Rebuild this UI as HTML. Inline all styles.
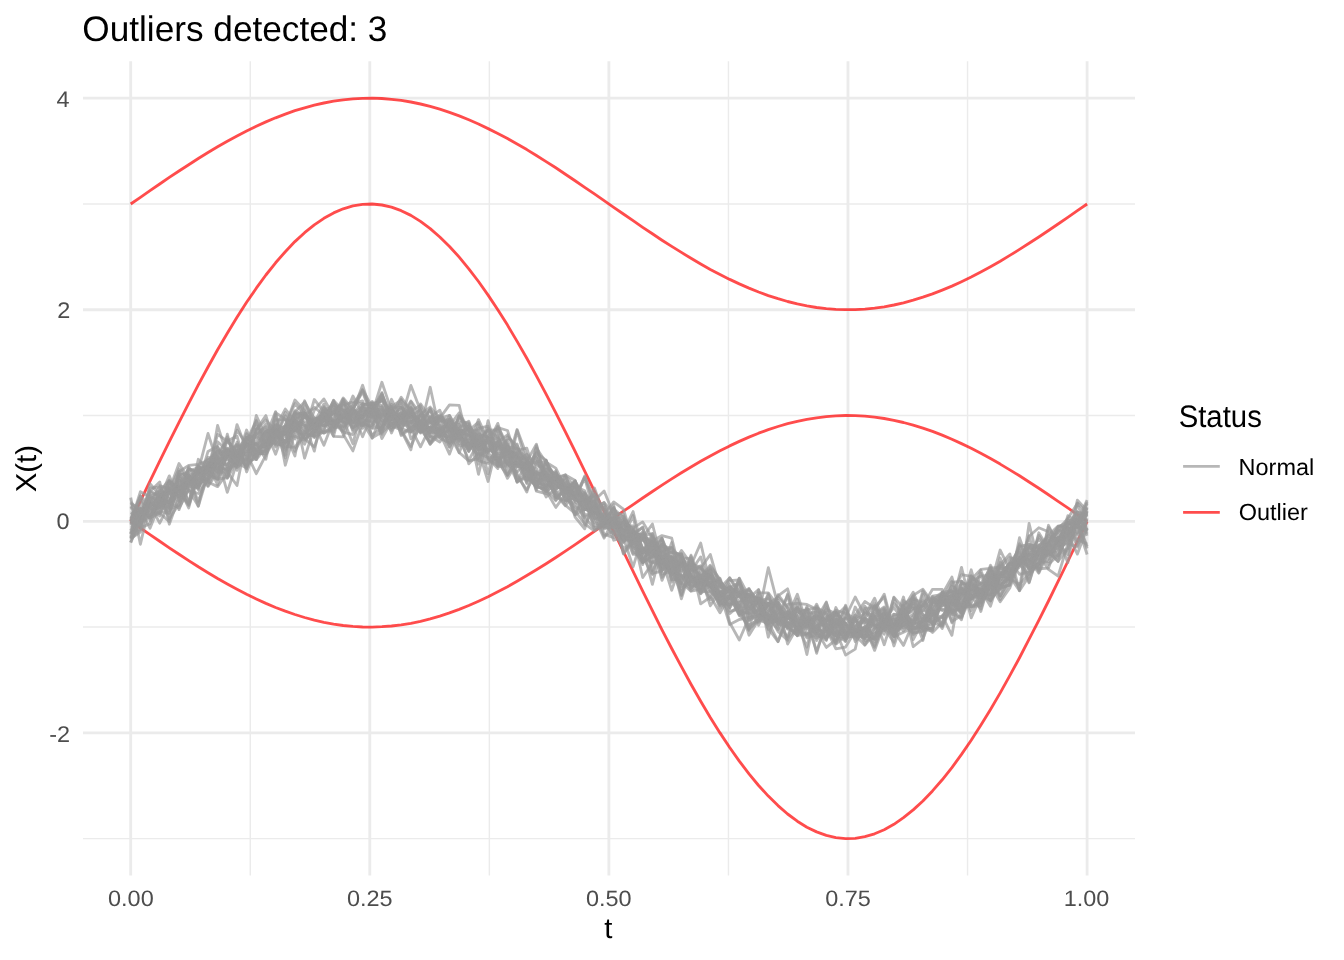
<!DOCTYPE html>
<html><head><meta charset="utf-8"><title>Outliers detected: 3</title>
<style>html,body{margin:0;padding:0;background:#fff;width:1344px;height:960px;overflow:hidden}svg{display:block;will-change:transform}</style>
</head><body>
<svg width="1344" height="960" viewBox="0 0 1344 960">
<rect width="1344" height="960" fill="#fff"/>
<path d="M83 838.62H1135M83 627.07H1135M83 415.52H1135M83 203.97H1135M250.25 61.2V875.6M489.35 61.2V875.6M728.45 61.2V875.6M967.55 61.2V875.6" stroke="#EBEBEB" stroke-width="1.42" fill="none"/>
<path d="M83 732.85H1135M83 521.3H1135M83 309.75H1135M83 98.2H1135M130.7 61.2V875.6M369.8 61.2V875.6M608.9 61.2V875.6M848 61.2V875.6M1087.1 61.2V875.6" stroke="#EBEBEB" stroke-width="2.845" fill="none"/>
<g fill="none" stroke-linejoin="round" stroke-width="2.845">
<path d="M130.7 204.0 140.4 197.3 150.0 190.6 159.7 184.0 169.3 177.4 179.0 171.0 188.7 164.7 198.3 158.5 208.0 152.5 217.6 146.8 227.3 141.3 237.0 136.0 246.6 131.0 256.3 126.3 265.9 121.9 275.6 117.8 285.3 114.1 294.9 110.7 304.6 107.8 314.3 105.2 323.9 103.0 333.6 101.2 343.2 99.8 352.9 98.9 362.6 98.3 372.2 98.2 381.9 98.5 391.5 99.3 401.2 100.4 410.9 102.0 420.5 104.0 430.2 106.4 439.8 109.2 449.5 112.4 459.2 115.9 468.8 119.8 478.5 124.0 488.1 128.6 497.8 133.4 507.5 138.6 517.1 144.0 526.8 149.6 536.4 155.5 546.1 161.6 555.8 167.8 565.4 174.2 575.1 180.7 584.7 187.3 594.4 193.9 604.1 200.6 613.7 207.3 623.4 214.0 633.1 220.7 642.7 227.3 652.4 233.8 662.0 240.2 671.7 246.4 681.4 252.4 691.0 258.3 700.7 264.0 710.3 269.4 720.0 274.5 729.7 279.4 739.3 283.9 749.0 288.1 758.6 292.0 768.3 295.6 778.0 298.7 787.6 301.5 797.3 303.9 806.9 305.9 816.6 307.5 826.3 308.7 835.9 309.4 845.6 309.7 855.2 309.6 864.9 309.1 874.6 308.1 884.2 306.8 893.9 305.0 903.5 302.8 913.2 300.2 922.9 297.2 932.5 293.9 942.2 290.1 951.9 286.1 961.5 281.7 971.2 277.0 980.8 272.0 990.5 266.7 1000.2 261.2 1009.8 255.4 1019.5 249.4 1029.1 243.3 1038.8 237.0 1048.5 230.5 1058.1 224.0 1067.8 217.4 1077.4 210.7 1087.1 204.0" stroke="rgba(255,0,0,0.7)"/>
<path d="M130.7 521.3 140.4 501.2 150.0 481.1 159.7 461.2 169.3 441.6 179.0 422.3 188.7 403.4 198.3 384.9 208.0 367.0 217.6 349.7 227.3 333.2 237.0 317.3 246.6 302.3 256.3 288.2 265.9 275.0 275.6 262.8 285.3 251.7 294.9 241.6 304.6 232.7 314.3 224.9 323.9 218.3 333.6 212.9 343.2 208.8 352.9 205.9 362.6 204.3 372.2 204.0 381.9 205.0 391.5 207.2 401.2 210.7 410.9 215.4 420.5 221.4 430.2 228.6 439.8 237.0 449.5 246.5 459.2 257.1 468.8 268.8 478.5 281.5 488.1 295.1 497.8 309.7 507.5 325.1 517.1 341.4 526.8 358.3 536.4 375.9 546.1 394.1 555.8 412.8 565.4 431.9 575.1 451.4 584.7 471.2 594.4 491.1 604.1 511.2 613.7 531.4 623.4 551.5 633.1 571.4 642.7 591.2 652.4 610.7 662.0 629.8 671.7 648.5 681.4 666.7 691.0 684.3 700.7 701.2 710.3 717.5 720.0 732.9 729.7 747.5 739.3 761.1 749.0 773.8 758.6 785.5 768.3 796.1 778.0 805.6 787.6 814.0 797.3 821.2 806.9 827.2 816.6 831.9 826.3 835.4 835.9 837.6 845.6 838.6 855.2 838.3 864.9 836.7 874.6 833.8 884.2 829.7 893.9 824.3 903.5 817.7 913.2 809.9 922.9 801.0 932.5 790.9 942.2 779.8 951.9 767.6 961.5 754.4 971.2 740.3 980.8 725.3 990.5 709.4 1000.2 692.9 1009.8 675.6 1019.5 657.7 1029.1 639.2 1038.8 620.3 1048.5 601.0 1058.1 581.4 1067.8 561.5 1077.4 541.4 1087.1 521.3" stroke="rgba(255,0,0,0.7)"/>
<path d="M130.7 521.3 140.4 528.0 150.0 534.7 159.7 541.3 169.3 547.9 179.0 554.3 188.7 560.6 198.3 566.8 208.0 572.7 217.6 578.5 227.3 584.0 237.0 589.3 246.6 594.3 256.3 599.0 265.9 603.4 275.6 607.5 285.3 611.2 294.9 614.5 304.6 617.5 314.3 620.1 323.9 622.3 333.6 624.1 343.2 625.5 352.9 626.4 362.6 627.0 372.2 627.1 381.9 626.7 391.5 626.0 401.2 624.8 410.9 623.3 420.5 621.3 430.2 618.9 439.8 616.1 449.5 612.9 459.2 609.4 468.8 605.5 478.5 601.2 488.1 596.7 497.8 591.8 507.5 586.7 517.1 581.3 526.8 575.6 536.4 569.8 546.1 563.7 555.8 557.5 565.4 551.1 575.1 544.6 584.7 538.0 594.4 531.4 604.1 524.7 613.7 517.9 623.4 511.2 633.1 504.6 642.7 498.0 652.4 491.5 662.0 485.1 671.7 478.9 681.4 472.8 691.0 467.0 700.7 461.3 710.3 455.9 720.0 450.8 729.7 445.9 739.3 441.4 749.0 437.1 758.6 433.2 768.3 429.7 778.0 426.5 787.6 423.7 797.3 421.3 806.9 419.3 816.6 417.8 826.3 416.6 835.9 415.9 845.6 415.5 855.2 415.6 864.9 416.2 874.6 417.1 884.2 418.5 893.9 420.3 903.5 422.5 913.2 425.1 922.9 428.1 932.5 431.4 942.2 435.1 951.9 439.2 961.5 443.6 971.2 448.3 980.8 453.3 990.5 458.6 1000.2 464.1 1009.8 469.9 1019.5 475.8 1029.1 482.0 1038.8 488.3 1048.5 494.7 1058.1 501.3 1067.8 507.9 1077.4 514.6 1087.1 521.3" stroke="rgba(255,0,0,0.7)"/>
<path d="M130.7 497.6 140.4 544.3 150.0 503.0 159.7 507.9 169.3 500.0 179.0 490.8 188.7 505.5 198.3 478.5 208.0 479.9 217.6 425.4 227.3 456.0 237.0 457.4 246.6 451.6 256.3 451.4 265.9 451.5 275.6 439.7 285.3 425.8 294.9 430.8 304.6 413.9 314.3 424.8 323.9 420.0 333.6 400.5 343.2 410.8 352.9 422.1 362.6 417.8 372.2 409.2 381.9 393.3 391.5 419.7 401.2 420.6 410.9 407.7 420.5 431.7 430.2 427.1 439.8 416.3 449.5 422.9 459.2 432.2 468.8 429.3 478.5 474.3 488.1 434.0 497.8 461.9 507.5 475.3 517.1 458.1 526.8 458.8 536.4 478.0 546.1 491.4 555.8 484.8 565.4 492.1 575.1 481.6 584.7 495.9 594.4 509.0 604.1 505.0 613.7 527.0 623.4 542.1 633.1 531.2 642.7 537.8 652.4 553.6 662.0 566.6 671.7 561.0 681.4 598.8 691.0 567.6 700.7 575.6 710.3 605.8 720.0 591.1 729.7 607.9 739.3 592.4 749.0 629.1 758.6 620.0 768.3 604.6 778.0 602.6 787.6 644.0 797.3 627.1 806.9 619.4 816.6 631.9 826.3 607.5 835.9 640.6 845.6 622.9 855.2 639.2 864.9 610.1 874.6 625.7 884.2 628.4 893.9 642.3 903.5 600.5 913.2 608.8 922.9 605.8 932.5 597.9 942.2 603.4 951.9 610.8 961.5 608.3 971.2 603.6 980.8 573.3 990.5 601.0 1000.2 585.4 1009.8 576.5 1019.5 564.1 1029.1 553.9 1038.8 568.8 1048.5 568.0 1058.1 541.4 1067.8 520.6 1077.4 519.2 1087.1 518.8" stroke="rgba(153,153,153,0.7)"/>
<path d="M130.7 525.0 140.4 511.2 150.0 510.7 159.7 491.8 169.3 504.0 179.0 486.7 188.7 483.3 198.3 469.5 208.0 467.3 217.6 434.4 227.3 441.1 237.0 435.9 246.6 472.0 256.3 447.6 265.9 446.3 275.6 428.9 285.3 457.9 294.9 414.4 304.6 412.7 314.3 437.6 323.9 431.7 333.6 427.8 343.2 416.6 352.9 408.7 362.6 391.8 372.2 417.8 381.9 406.9 391.5 414.8 401.2 397.3 410.9 410.7 420.5 405.4 430.2 436.3 439.8 428.8 449.5 439.2 459.2 415.7 468.8 429.5 478.5 444.9 488.1 451.2 497.8 445.1 507.5 464.1 517.1 472.1 526.8 461.4 536.4 444.2 546.1 481.8 555.8 491.6 565.4 505.1 575.1 513.5 584.7 498.5 594.4 501.3 604.1 517.8 613.7 520.8 623.4 530.0 633.1 536.4 642.7 562.4 652.4 556.4 662.0 556.2 671.7 572.8 681.4 575.3 691.0 585.2 700.7 585.2 710.3 576.8 720.0 596.6 729.7 598.5 739.3 591.8 749.0 598.0 758.6 589.6 768.3 637.2 778.0 606.1 787.6 624.5 797.3 619.7 806.9 613.5 816.6 612.2 826.3 613.9 835.9 624.9 845.6 608.3 855.2 630.2 864.9 628.1 874.6 616.2 884.2 630.5 893.9 597.2 903.5 608.3 913.2 592.2 922.9 614.8 932.5 615.6 942.2 605.5 951.9 594.8 961.5 605.8 971.2 589.9 980.8 589.5 990.5 565.2 1000.2 586.2 1009.8 560.6 1019.5 574.3 1029.1 571.8 1038.8 562.6 1048.5 561.7 1058.1 539.6 1067.8 522.7 1077.4 526.1 1087.1 514.0" stroke="rgba(153,153,153,0.7)"/>
<path d="M130.7 502.3 140.4 511.4 150.0 505.6 159.7 504.5 169.3 513.4 179.0 479.5 188.7 502.4 198.3 468.2 208.0 470.0 217.6 451.0 227.3 459.4 237.0 462.9 246.6 444.1 256.3 450.1 265.9 441.3 275.6 434.7 285.3 433.0 294.9 430.3 304.6 434.8 314.3 424.7 323.9 445.2 333.6 420.3 343.2 431.1 352.9 403.1 362.6 400.9 372.2 438.2 381.9 414.2 391.5 418.1 401.2 429.9 410.9 413.2 420.5 426.7 430.2 444.3 439.8 429.6 449.5 431.4 459.2 432.0 468.8 451.5 478.5 434.2 488.1 437.4 497.8 464.1 507.5 463.6 517.1 462.3 526.8 473.6 536.4 452.5 546.1 476.5 555.8 496.9 565.4 500.7 575.1 498.7 584.7 477.9 594.4 513.3 604.1 516.5 613.7 518.7 623.4 531.8 633.1 511.5 642.7 550.8 652.4 542.4 662.0 555.6 671.7 556.5 681.4 583.5 691.0 555.1 700.7 582.7 710.3 586.3 720.0 602.7 729.7 605.2 739.3 594.7 749.0 594.0 758.6 600.6 768.3 598.8 778.0 607.8 787.6 618.5 797.3 611.5 806.9 616.3 816.6 626.0 826.3 617.6 835.9 611.8 845.6 624.3 855.2 631.1 864.9 618.1 874.6 603.4 884.2 626.5 893.9 623.4 903.5 621.7 913.2 603.3 922.9 635.9 932.5 606.9 942.2 593.6 951.9 612.9 961.5 581.7 971.2 588.1 980.8 595.7 990.5 581.6 1000.2 596.3 1009.8 579.3 1019.5 545.5 1029.1 571.0 1038.8 532.8 1048.5 548.8 1058.1 529.7 1067.8 534.2 1077.4 554.1 1087.1 528.0" stroke="rgba(153,153,153,0.7)"/>
<path d="M130.7 519.1 140.4 528.0 150.0 523.6 159.7 497.0 169.3 502.3 179.0 508.0 188.7 489.9 198.3 465.8 208.0 475.4 217.6 453.2 227.3 440.8 237.0 452.9 246.6 461.5 256.3 458.7 265.9 439.5 275.6 424.9 285.3 428.3 294.9 421.7 304.6 430.2 314.3 419.0 323.9 425.8 333.6 422.3 343.2 432.2 352.9 434.5 362.6 421.3 372.2 428.4 381.9 427.0 391.5 408.8 401.2 419.0 410.9 385.4 420.5 410.6 430.2 431.1 439.8 417.5 449.5 425.5 459.2 441.2 468.8 424.3 478.5 450.4 488.1 481.5 497.8 441.5 507.5 463.1 517.1 444.0 526.8 474.5 536.4 486.6 546.1 460.9 555.8 497.6 565.4 489.1 575.1 481.1 584.7 503.3 594.4 512.2 604.1 516.8 613.7 514.9 623.4 540.7 633.1 530.9 642.7 537.9 652.4 524.0 662.0 561.4 671.7 574.4 681.4 561.2 691.0 580.3 700.7 577.9 710.3 585.1 720.0 578.2 729.7 604.3 739.3 602.3 749.0 635.2 758.6 619.7 768.3 595.0 778.0 624.0 787.6 627.0 797.3 635.4 806.9 616.5 816.6 622.8 826.3 639.8 835.9 619.0 845.6 624.0 855.2 618.2 864.9 633.9 874.6 605.2 884.2 619.3 893.9 623.7 903.5 626.1 913.2 620.4 922.9 604.5 932.5 614.3 942.2 594.9 951.9 596.6 961.5 583.3 971.2 584.8 980.8 590.0 990.5 606.2 1000.2 575.0 1009.8 563.5 1019.5 564.9 1029.1 554.1 1038.8 559.8 1048.5 552.3 1058.1 552.3 1067.8 518.8 1077.4 526.2 1087.1 527.0" stroke="rgba(153,153,153,0.7)"/>
<path d="M130.7 536.8 140.4 516.4 150.0 491.1 159.7 495.9 169.3 503.2 179.0 471.7 188.7 465.4 198.3 464.4 208.0 460.7 217.6 450.7 227.3 452.3 237.0 444.3 246.6 457.4 256.3 426.2 265.9 436.5 275.6 411.6 285.3 455.2 294.9 419.9 304.6 413.7 314.3 426.5 323.9 415.0 333.6 409.8 343.2 410.4 352.9 422.5 362.6 417.3 372.2 403.7 381.9 401.0 391.5 415.5 401.2 416.9 410.9 417.0 420.5 409.3 430.2 436.0 439.8 442.0 449.5 428.2 459.2 446.1 468.8 444.0 478.5 440.4 488.1 440.3 497.8 463.2 507.5 446.6 517.1 482.0 526.8 460.6 536.4 491.2 546.1 493.7 555.8 477.7 565.4 496.2 575.1 507.3 584.7 509.8 594.4 505.8 604.1 518.6 613.7 525.0 623.4 519.1 633.1 546.3 642.7 550.1 652.4 557.2 662.0 543.9 671.7 552.2 681.4 554.8 691.0 576.0 700.7 583.1 710.3 576.8 720.0 596.4 729.7 587.0 739.3 592.8 749.0 613.6 758.6 610.3 768.3 614.3 778.0 595.9 787.6 588.8 797.3 622.4 806.9 623.1 816.6 651.4 826.3 623.5 835.9 626.8 845.6 639.5 855.2 617.8 864.9 644.6 874.6 628.0 884.2 622.5 893.9 636.8 903.5 610.1 913.2 605.2 922.9 630.7 932.5 627.6 942.2 600.5 951.9 603.8 961.5 613.1 971.2 597.7 980.8 590.5 990.5 585.7 1000.2 568.9 1009.8 568.3 1019.5 546.2 1029.1 544.6 1038.8 546.4 1048.5 535.3 1058.1 525.9 1067.8 526.5 1077.4 542.3 1087.1 511.3" stroke="rgba(153,153,153,0.7)"/>
<path d="M130.7 520.5 140.4 495.8 150.0 506.8 159.7 495.2 169.3 490.9 179.0 468.7 188.7 479.9 198.3 479.0 208.0 466.3 217.6 469.2 227.3 456.7 237.0 453.4 246.6 445.1 256.3 421.2 265.9 443.9 275.6 434.7 285.3 433.7 294.9 420.2 304.6 438.8 314.3 430.6 323.9 420.8 333.6 412.2 343.2 417.7 352.9 422.0 362.6 425.7 372.2 409.6 381.9 399.1 391.5 412.8 401.2 415.6 410.9 414.2 420.5 432.3 430.2 427.4 439.8 429.6 449.5 426.3 459.2 433.6 468.8 451.3 478.5 428.3 488.1 426.2 497.8 453.8 507.5 451.3 517.1 458.2 526.8 457.8 536.4 490.0 546.1 460.1 555.8 490.6 565.4 476.8 575.1 497.1 584.7 509.1 594.4 512.9 604.1 507.5 613.7 534.7 623.4 535.7 633.1 543.6 642.7 564.6 652.4 536.0 662.0 550.7 671.7 564.0 681.4 556.2 691.0 586.8 700.7 582.1 710.3 566.6 720.0 580.4 729.7 622.6 739.3 640.0 749.0 617.5 758.6 597.0 768.3 618.4 778.0 618.6 787.6 611.8 797.3 631.6 806.9 620.8 816.6 615.6 826.3 620.6 835.9 622.1 845.6 634.1 855.2 621.0 864.9 631.4 874.6 610.3 884.2 594.2 893.9 630.9 903.5 645.4 913.2 622.5 922.9 610.2 932.5 599.0 942.2 594.9 951.9 612.5 961.5 608.2 971.2 579.5 980.8 602.0 990.5 571.3 1000.2 581.1 1009.8 563.8 1019.5 558.5 1029.1 551.6 1038.8 544.8 1048.5 559.4 1058.1 537.9 1067.8 534.5 1077.4 524.4 1087.1 507.0" stroke="rgba(153,153,153,0.7)"/>
<path d="M130.7 524.5 140.4 522.9 150.0 516.4 159.7 504.9 169.3 486.0 179.0 497.8 188.7 468.5 198.3 472.5 208.0 472.5 217.6 479.6 227.3 455.7 237.0 445.3 246.6 468.9 256.3 429.7 265.9 420.0 275.6 431.2 285.3 425.7 294.9 400.0 304.6 410.8 314.3 432.9 323.9 420.5 333.6 420.3 343.2 418.9 352.9 443.7 362.6 406.8 372.2 422.9 381.9 414.0 391.5 418.2 401.2 407.6 410.9 422.8 420.5 430.6 430.2 417.5 439.8 410.2 449.5 433.4 459.2 417.3 468.8 434.1 478.5 447.6 488.1 428.2 497.8 460.3 507.5 444.1 517.1 467.1 526.8 461.7 536.4 487.2 546.1 488.6 555.8 472.7 565.4 489.3 575.1 497.6 584.7 509.7 594.4 506.1 604.1 534.2 613.7 537.7 623.4 533.2 633.1 547.7 642.7 552.8 652.4 551.9 662.0 559.1 671.7 566.3 681.4 550.4 691.0 563.9 700.7 567.0 710.3 587.0 720.0 597.7 729.7 613.6 739.3 605.3 749.0 629.7 758.6 616.2 768.3 604.0 778.0 597.2 787.6 607.6 797.3 631.3 806.9 617.5 816.6 634.0 826.3 616.4 835.9 628.0 845.6 617.1 855.2 597.0 864.9 615.7 874.6 598.3 884.2 622.0 893.9 626.1 903.5 604.6 913.2 597.5 922.9 621.0 932.5 610.3 942.2 624.2 951.9 605.7 961.5 588.7 971.2 595.3 980.8 595.9 990.5 600.4 1000.2 574.2 1009.8 563.4 1019.5 559.8 1029.1 557.6 1038.8 569.1 1048.5 527.4 1058.1 542.0 1067.8 536.4 1077.4 519.5 1087.1 546.5" stroke="rgba(153,153,153,0.7)"/>
<path d="M130.7 522.1 140.4 516.2 150.0 503.6 159.7 485.6 169.3 489.2 179.0 509.6 188.7 485.9 198.3 473.4 208.0 468.2 217.6 479.0 227.3 477.9 237.0 446.9 246.6 444.3 256.3 443.8 265.9 459.3 275.6 414.5 285.3 465.2 294.9 432.3 304.6 400.8 314.3 424.3 323.9 417.6 333.6 432.2 343.2 401.3 352.9 431.2 362.6 412.7 372.2 414.0 381.9 428.1 391.5 406.3 401.2 434.2 410.9 427.3 420.5 421.7 430.2 428.5 439.8 421.1 449.5 418.9 459.2 436.7 468.8 443.4 478.5 447.4 488.1 450.2 497.8 441.4 507.5 458.4 517.1 456.6 526.8 468.0 536.4 482.7 546.1 468.8 555.8 497.2 565.4 491.4 575.1 480.7 584.7 517.3 594.4 511.9 604.1 536.4 613.7 530.6 623.4 548.7 633.1 542.2 642.7 550.9 652.4 549.6 662.0 539.0 671.7 560.4 681.4 562.1 691.0 576.2 700.7 584.1 710.3 596.4 720.0 612.8 729.7 595.9 739.3 582.3 749.0 599.9 758.6 615.6 768.3 593.7 778.0 621.1 787.6 626.1 797.3 635.4 806.9 634.4 816.6 627.7 826.3 602.7 835.9 629.1 845.6 639.1 855.2 634.0 864.9 629.0 874.6 645.4 884.2 622.6 893.9 614.2 903.5 616.4 913.2 610.5 922.9 629.5 932.5 630.9 942.2 592.5 951.9 590.7 961.5 616.9 971.2 591.9 980.8 589.0 990.5 577.7 1000.2 576.1 1009.8 578.6 1019.5 564.5 1029.1 558.8 1038.8 554.9 1048.5 569.4 1058.1 576.2 1067.8 543.9 1077.4 547.0 1087.1 518.4" stroke="rgba(153,153,153,0.7)"/>
<path d="M130.7 513.0 140.4 511.5 150.0 512.2 159.7 500.5 169.3 481.2 179.0 496.8 188.7 471.3 198.3 467.6 208.0 466.8 217.6 447.2 227.3 466.9 237.0 442.3 246.6 459.1 256.3 452.5 265.9 451.5 275.6 430.0 285.3 442.4 294.9 427.5 304.6 438.3 314.3 410.1 323.9 398.9 333.6 415.9 343.2 398.0 352.9 409.7 362.6 390.4 372.2 414.4 381.9 434.1 391.5 399.3 401.2 419.2 410.9 431.4 420.5 429.0 430.2 442.7 439.8 428.5 449.5 442.2 459.2 416.0 468.8 429.4 478.5 460.7 488.1 463.5 497.8 457.4 507.5 478.3 517.1 462.6 526.8 467.5 536.4 481.8 546.1 485.3 555.8 479.3 565.4 475.0 575.1 480.6 584.7 504.2 594.4 501.3 604.1 526.5 613.7 519.9 623.4 542.5 633.1 529.5 642.7 559.0 652.4 562.3 662.0 557.6 671.7 557.2 681.4 586.5 691.0 581.9 700.7 579.7 710.3 584.0 720.0 601.6 729.7 595.6 739.3 604.3 749.0 589.1 758.6 602.9 768.3 628.3 778.0 641.7 787.6 617.7 797.3 607.5 806.9 621.2 816.6 614.6 826.3 631.6 835.9 642.6 845.6 618.4 855.2 625.8 864.9 618.5 874.6 641.5 884.2 622.0 893.9 629.6 903.5 610.7 913.2 624.3 922.9 621.6 932.5 618.0 942.2 592.8 951.9 603.1 961.5 607.8 971.2 606.2 980.8 601.4 990.5 567.0 1000.2 599.6 1009.8 582.6 1019.5 559.3 1029.1 546.9 1038.8 556.0 1048.5 538.7 1058.1 532.5 1067.8 523.2 1077.4 527.5 1087.1 502.0" stroke="rgba(153,153,153,0.7)"/>
<path d="M130.7 518.8 140.4 496.6 150.0 520.5 159.7 490.1 169.3 509.1 179.0 505.5 188.7 475.9 198.3 485.1 208.0 464.3 217.6 476.2 227.3 439.5 237.0 452.8 246.6 461.0 256.3 441.1 265.9 428.5 275.6 443.6 285.3 424.9 294.9 403.7 304.6 414.4 314.3 422.0 323.9 426.3 333.6 411.2 343.2 434.2 352.9 450.9 362.6 422.8 372.2 427.5 381.9 394.9 391.5 414.3 401.2 428.6 410.9 432.2 420.5 414.8 430.2 432.7 439.8 432.6 449.5 430.0 459.2 431.5 468.8 435.3 478.5 439.3 488.1 430.0 497.8 430.2 507.5 474.4 517.1 430.5 526.8 464.6 536.4 457.5 546.1 486.7 555.8 480.5 565.4 488.2 575.1 495.8 584.7 493.8 594.4 503.0 604.1 528.8 613.7 525.2 623.4 522.0 633.1 529.1 642.7 547.6 652.4 553.5 662.0 558.4 671.7 575.7 681.4 583.9 691.0 556.5 700.7 585.0 710.3 584.7 720.0 599.7 729.7 580.7 739.3 580.0 749.0 607.2 758.6 602.5 768.3 620.8 778.0 594.7 787.6 607.2 797.3 630.2 806.9 607.9 816.6 619.8 826.3 620.3 835.9 621.7 845.6 634.0 855.2 632.4 864.9 618.3 874.6 625.2 884.2 634.3 893.9 597.8 903.5 621.7 913.2 623.2 922.9 621.8 932.5 602.3 942.2 595.3 951.9 599.7 961.5 588.1 971.2 610.9 980.8 592.8 990.5 588.7 1000.2 577.6 1009.8 566.3 1019.5 589.7 1029.1 523.5 1038.8 563.6 1048.5 543.1 1058.1 531.0 1067.8 524.1 1077.4 524.5 1087.1 554.5" stroke="rgba(153,153,153,0.7)"/>
<path d="M130.7 533.3 140.4 505.1 150.0 518.0 159.7 513.0 169.3 521.6 179.0 473.6 188.7 475.5 198.3 485.7 208.0 470.9 217.6 464.8 227.3 471.1 237.0 456.1 246.6 445.0 256.3 436.8 265.9 424.1 275.6 434.5 285.3 436.5 294.9 423.1 304.6 432.1 314.3 436.8 323.9 406.7 333.6 422.7 343.2 415.5 352.9 408.4 362.6 428.3 372.2 407.8 381.9 410.4 391.5 417.5 401.2 413.0 410.9 427.9 420.5 446.8 430.2 426.8 439.8 436.9 449.5 419.4 459.2 429.9 468.8 443.1 478.5 440.6 488.1 430.0 497.8 437.4 507.5 451.4 517.1 456.1 526.8 470.0 536.4 474.1 546.1 471.8 555.8 486.3 565.4 487.8 575.1 510.8 584.7 523.8 594.4 530.8 604.1 522.8 613.7 509.0 623.4 517.4 633.1 549.4 642.7 562.5 652.4 541.7 662.0 551.9 671.7 579.5 681.4 557.3 691.0 573.4 700.7 565.7 710.3 582.5 720.0 581.3 729.7 592.8 739.3 612.1 749.0 608.0 758.6 617.1 768.3 603.1 778.0 627.5 787.6 636.5 797.3 613.1 806.9 609.7 816.6 607.8 826.3 613.1 835.9 644.1 845.6 635.0 855.2 633.2 864.9 626.5 874.6 650.4 884.2 624.1 893.9 618.9 903.5 631.0 913.2 616.0 922.9 600.5 932.5 610.5 942.2 595.0 951.9 591.5 961.5 594.1 971.2 589.7 980.8 593.5 990.5 569.4 1000.2 583.8 1009.8 580.7 1019.5 558.4 1029.1 568.9 1038.8 549.2 1048.5 535.4 1058.1 540.2 1067.8 533.3 1077.4 517.2 1087.1 512.4" stroke="rgba(153,153,153,0.7)"/>
<path d="M130.7 539.1 140.4 529.7 150.0 492.3 159.7 496.6 169.3 518.8 179.0 503.8 188.7 481.5 198.3 487.1 208.0 464.2 217.6 463.0 227.3 452.7 237.0 466.7 246.6 440.9 256.3 420.6 265.9 448.2 275.6 419.6 285.3 419.8 294.9 420.3 304.6 425.6 314.3 435.8 323.9 430.3 333.6 409.4 343.2 405.5 352.9 401.7 362.6 404.2 372.2 404.8 381.9 420.6 391.5 430.4 401.2 415.1 410.9 413.3 420.5 420.1 430.2 441.1 439.8 432.3 449.5 446.6 459.2 431.3 468.8 449.1 478.5 443.0 488.1 441.9 497.8 448.9 507.5 439.7 517.1 473.9 526.8 492.1 536.4 461.5 546.1 462.3 555.8 468.1 565.4 487.9 575.1 491.4 584.7 502.8 594.4 526.0 604.1 524.3 613.7 518.5 623.4 537.7 633.1 515.5 642.7 562.2 652.4 555.8 662.0 544.2 671.7 570.4 681.4 582.6 691.0 591.1 700.7 589.4 710.3 568.8 720.0 586.7 729.7 590.3 739.3 606.9 749.0 595.3 758.6 607.7 768.3 623.2 778.0 621.0 787.6 616.1 797.3 607.3 806.9 623.5 816.6 618.6 826.3 602.1 835.9 635.6 845.6 641.1 855.2 615.1 864.9 620.9 874.6 626.2 884.2 620.6 893.9 625.7 903.5 613.7 913.2 621.0 922.9 604.8 932.5 624.4 942.2 616.6 951.9 601.6 961.5 604.1 971.2 585.8 980.8 589.4 990.5 589.9 1000.2 575.6 1009.8 578.4 1019.5 584.5 1029.1 573.4 1038.8 563.2 1048.5 552.9 1058.1 539.7 1067.8 523.6 1077.4 521.1 1087.1 500.1" stroke="rgba(153,153,153,0.7)"/>
<path d="M130.7 506.0 140.4 516.3 150.0 488.2 159.7 487.0 169.3 499.5 179.0 484.2 188.7 468.7 198.3 472.5 208.0 457.5 217.6 459.0 227.3 449.9 237.0 456.5 246.6 443.4 256.3 447.3 265.9 430.8 275.6 454.2 285.3 427.0 294.9 413.0 304.6 417.8 314.3 422.2 323.9 413.5 333.6 427.8 343.2 426.3 352.9 419.8 362.6 416.8 372.2 403.7 381.9 425.7 391.5 404.4 401.2 435.5 410.9 428.0 420.5 421.2 430.2 409.7 439.8 433.1 449.5 454.1 459.2 427.8 468.8 436.9 478.5 453.4 488.1 457.5 497.8 458.3 507.5 454.2 517.1 453.1 526.8 483.6 536.4 445.7 546.1 478.8 555.8 488.9 565.4 483.1 575.1 496.2 584.7 476.9 594.4 498.0 604.1 521.7 613.7 528.7 623.4 536.6 633.1 541.5 642.7 536.3 652.4 558.1 662.0 538.2 671.7 564.1 681.4 571.0 691.0 564.1 700.7 603.8 710.3 597.1 720.0 584.4 729.7 596.1 739.3 600.9 749.0 600.4 758.6 615.9 768.3 614.4 778.0 631.4 787.6 640.2 797.3 606.1 806.9 633.6 816.6 632.7 826.3 609.3 835.9 613.9 845.6 632.7 855.2 632.7 864.9 626.9 874.6 636.1 884.2 617.3 893.9 620.2 903.5 618.1 913.2 608.3 922.9 605.7 932.5 589.3 942.2 589.4 951.9 622.8 961.5 588.1 971.2 606.9 980.8 605.5 990.5 575.3 1000.2 586.2 1009.8 576.0 1019.5 553.9 1029.1 567.9 1038.8 564.3 1048.5 543.6 1058.1 526.6 1067.8 528.1 1077.4 545.6 1087.1 528.4" stroke="rgba(153,153,153,0.7)"/>
<path d="M130.7 522.6 140.4 491.7 150.0 497.1 159.7 490.9 169.3 480.3 179.0 491.4 188.7 476.0 198.3 469.7 208.0 480.8 217.6 463.9 227.3 451.6 237.0 465.4 246.6 438.5 256.3 434.3 265.9 426.7 275.6 443.7 285.3 429.7 294.9 410.7 304.6 415.4 314.3 431.2 323.9 417.2 333.6 401.5 343.2 417.6 352.9 411.3 362.6 385.3 372.2 415.5 381.9 416.7 391.5 427.9 401.2 425.0 410.9 401.7 420.5 422.6 430.2 437.1 439.8 437.0 449.5 429.2 459.2 424.0 468.8 445.4 478.5 432.7 488.1 451.2 497.8 446.3 507.5 449.5 517.1 453.9 526.8 471.7 536.4 474.5 546.1 472.7 555.8 499.9 565.4 489.3 575.1 491.8 584.7 492.3 594.4 511.5 604.1 519.9 613.7 522.9 623.4 539.8 633.1 540.3 642.7 539.8 652.4 547.8 662.0 569.6 671.7 567.5 681.4 594.3 691.0 566.3 700.7 587.5 710.3 583.9 720.0 604.7 729.7 597.7 739.3 596.1 749.0 594.1 758.6 625.3 768.3 603.2 778.0 618.1 787.6 628.0 797.3 615.9 806.9 626.8 816.6 628.5 826.3 634.4 835.9 624.3 845.6 626.8 855.2 629.2 864.9 637.7 874.6 631.6 884.2 619.6 893.9 607.7 903.5 620.6 913.2 601.3 922.9 614.9 932.5 624.1 942.2 600.3 951.9 614.9 961.5 594.6 971.2 582.1 980.8 593.1 990.5 585.3 1000.2 550.0 1009.8 570.2 1019.5 563.9 1029.1 551.8 1038.8 555.7 1048.5 549.1 1058.1 537.1 1067.8 562.7 1077.4 511.8 1087.1 533.9" stroke="rgba(153,153,153,0.7)"/>
<path d="M130.7 534.0 140.4 508.5 150.0 507.8 159.7 516.0 169.3 492.5 179.0 501.8 188.7 490.3 198.3 493.5 208.0 479.7 217.6 459.7 227.3 457.4 237.0 449.9 246.6 437.8 256.3 444.3 265.9 447.1 275.6 438.6 285.3 412.5 294.9 427.9 304.6 421.6 314.3 423.8 323.9 417.7 333.6 413.7 343.2 417.4 352.9 418.2 362.6 424.9 372.2 425.6 381.9 411.3 391.5 408.1 401.2 407.3 410.9 418.9 420.5 431.1 430.2 416.6 439.8 419.6 449.5 447.4 459.2 424.1 468.8 430.6 478.5 422.2 488.1 459.2 497.8 465.8 507.5 447.0 517.1 482.4 526.8 475.6 536.4 485.7 546.1 490.8 555.8 507.4 565.4 494.4 575.1 486.9 584.7 499.6 594.4 506.2 604.1 522.3 613.7 508.0 623.4 525.4 633.1 526.0 642.7 562.7 652.4 547.2 662.0 570.9 671.7 559.8 681.4 567.6 691.0 588.8 700.7 579.3 710.3 573.3 720.0 586.1 729.7 589.9 739.3 611.3 749.0 613.4 758.6 622.3 768.3 611.4 778.0 602.3 787.6 613.8 797.3 621.3 806.9 636.2 816.6 619.7 826.3 628.8 835.9 648.8 845.6 647.1 855.2 630.9 864.9 636.8 874.6 606.3 884.2 623.7 893.9 634.3 903.5 625.7 913.2 599.0 922.9 625.5 932.5 602.2 942.2 602.4 951.9 586.3 961.5 592.8 971.2 598.9 980.8 583.1 990.5 583.2 1000.2 567.2 1009.8 573.4 1019.5 543.8 1029.1 561.7 1038.8 549.1 1048.5 555.4 1058.1 539.8 1067.8 534.3 1077.4 525.9 1087.1 510.7" stroke="rgba(153,153,153,0.7)"/>
<path d="M130.7 527.4 140.4 524.3 150.0 494.9 159.7 504.5 169.3 502.3 179.0 474.8 188.7 472.8 198.3 506.3 208.0 474.1 217.6 454.8 227.3 448.7 237.0 459.1 246.6 430.0 256.3 452.6 265.9 441.7 275.6 433.4 285.3 431.3 294.9 418.5 304.6 413.0 314.3 422.8 323.9 403.9 333.6 426.2 343.2 419.3 352.9 396.0 362.6 414.2 372.2 402.9 381.9 420.5 391.5 419.4 401.2 418.7 410.9 417.0 420.5 424.9 430.2 423.2 439.8 418.4 449.5 415.4 459.2 431.6 468.8 429.3 478.5 430.4 488.1 458.0 497.8 468.6 507.5 436.8 517.1 445.7 526.8 465.9 536.4 468.4 546.1 489.4 555.8 500.7 565.4 487.5 575.1 514.8 584.7 493.6 594.4 518.7 604.1 514.2 613.7 501.9 623.4 509.1 633.1 540.8 642.7 531.9 652.4 562.7 662.0 563.9 671.7 559.1 681.4 553.4 691.0 581.9 700.7 574.7 710.3 585.2 720.0 606.1 729.7 597.9 739.3 583.5 749.0 606.2 758.6 603.2 768.3 603.0 778.0 624.3 787.6 604.3 797.3 603.5 806.9 604.4 816.6 609.3 826.3 631.1 835.9 633.2 845.6 635.9 855.2 637.2 864.9 635.4 874.6 613.7 884.2 606.9 893.9 629.5 903.5 610.4 913.2 631.9 922.9 618.1 932.5 622.5 942.2 626.1 951.9 602.5 961.5 597.9 971.2 598.8 980.8 595.2 990.5 595.3 1000.2 579.8 1009.8 579.5 1019.5 563.8 1029.1 574.4 1038.8 551.5 1048.5 541.8 1058.1 526.7 1067.8 522.4 1077.4 525.7 1087.1 529.1" stroke="rgba(153,153,153,0.7)"/>
<path d="M130.7 542.4 140.4 514.6 150.0 491.4 159.7 481.9 169.3 524.2 179.0 497.0 188.7 486.0 198.3 487.8 208.0 467.6 217.6 463.6 227.3 464.5 237.0 453.6 246.6 466.7 256.3 454.8 265.9 449.5 275.6 424.6 285.3 450.3 294.9 430.5 304.6 416.0 314.3 423.0 323.9 410.8 333.6 426.0 343.2 412.0 352.9 405.6 362.6 389.6 372.2 407.0 381.9 399.2 391.5 416.4 401.2 416.5 410.9 401.0 420.5 414.4 430.2 407.1 439.8 418.1 449.5 404.9 459.2 405.4 468.8 446.7 478.5 419.6 488.1 440.7 497.8 445.0 507.5 457.0 517.1 452.7 526.8 479.7 536.4 481.0 546.1 487.5 555.8 481.5 565.4 480.5 575.1 489.1 584.7 500.0 594.4 517.8 604.1 538.1 613.7 519.6 623.4 529.3 633.1 533.5 642.7 527.7 652.4 552.9 662.0 559.5 671.7 590.3 681.4 562.9 691.0 575.9 700.7 589.5 710.3 581.9 720.0 603.6 729.7 602.6 739.3 578.1 749.0 596.4 758.6 598.3 768.3 603.9 778.0 608.3 787.6 616.3 797.3 594.3 806.9 623.8 816.6 616.0 826.3 628.2 835.9 630.5 845.6 655.1 855.2 649.1 864.9 608.1 874.6 607.9 884.2 628.9 893.9 622.4 903.5 612.7 913.2 628.8 922.9 593.7 932.5 623.1 942.2 615.6 951.9 635.3 961.5 581.2 971.2 593.4 980.8 570.2 990.5 595.5 1000.2 574.4 1009.8 571.7 1019.5 564.3 1029.1 536.3 1038.8 527.8 1048.5 531.7 1058.1 545.8 1067.8 524.1 1077.4 512.2 1087.1 514.7" stroke="rgba(153,153,153,0.7)"/>
<path d="M130.7 514.5 140.4 508.8 150.0 518.3 159.7 498.3 169.3 475.9 179.0 499.7 188.7 480.9 198.3 466.0 208.0 485.6 217.6 465.6 227.3 478.2 237.0 460.3 246.6 464.6 256.3 453.9 265.9 444.8 275.6 438.3 285.3 433.7 294.9 456.0 304.6 406.5 314.3 425.6 323.9 433.0 333.6 425.8 343.2 413.5 352.9 427.8 362.6 420.5 372.2 421.0 381.9 409.6 391.5 425.3 401.2 412.5 410.9 415.3 420.5 423.1 430.2 409.3 439.8 426.3 449.5 443.4 459.2 429.8 468.8 435.7 478.5 441.8 488.1 443.2 497.8 423.4 507.5 453.2 517.1 456.0 526.8 469.8 536.4 457.6 546.1 479.5 555.8 494.5 565.4 505.7 575.1 491.9 584.7 495.9 594.4 529.7 604.1 526.4 613.7 517.2 623.4 519.4 633.1 553.4 642.7 549.4 652.4 541.4 662.0 563.7 671.7 569.0 681.4 576.1 691.0 590.9 700.7 580.8 710.3 583.2 720.0 608.2 729.7 595.5 739.3 588.4 749.0 603.1 758.6 598.4 768.3 619.3 778.0 600.2 787.6 628.0 797.3 599.3 806.9 628.5 816.6 633.2 826.3 636.4 835.9 631.6 845.6 632.8 855.2 635.0 864.9 630.3 874.6 617.8 884.2 613.9 893.9 626.3 903.5 605.8 913.2 629.2 922.9 626.5 932.5 624.4 942.2 600.5 951.9 621.5 961.5 615.3 971.2 579.5 980.8 569.4 990.5 568.4 1000.2 595.9 1009.8 572.7 1019.5 557.1 1029.1 559.6 1038.8 573.2 1048.5 551.9 1058.1 561.2 1067.8 549.1 1077.4 503.0 1087.1 513.5" stroke="rgba(153,153,153,0.7)"/>
<path d="M130.7 538.5 140.4 532.1 150.0 502.7 159.7 508.5 169.3 488.1 179.0 495.9 188.7 484.4 198.3 473.2 208.0 482.0 217.6 486.6 227.3 472.6 237.0 461.6 246.6 450.8 256.3 444.4 265.9 440.1 275.6 429.3 285.3 442.0 294.9 412.0 304.6 401.9 314.3 418.4 323.9 418.3 333.6 404.2 343.2 409.8 352.9 414.2 362.6 417.8 372.2 424.3 381.9 429.6 391.5 409.0 401.2 404.1 410.9 431.8 420.5 422.4 430.2 421.4 439.8 431.7 449.5 438.7 459.2 438.0 468.8 460.2 478.5 442.3 488.1 449.5 497.8 426.3 507.5 445.2 517.1 465.5 526.8 467.3 536.4 453.1 546.1 460.4 555.8 483.2 565.4 493.2 575.1 515.0 584.7 508.6 594.4 513.4 604.1 526.7 613.7 504.7 623.4 553.4 633.1 539.8 642.7 540.1 652.4 546.2 662.0 538.1 671.7 580.2 681.4 578.7 691.0 574.7 700.7 579.9 710.3 591.4 720.0 600.9 729.7 584.4 739.3 613.7 749.0 612.4 758.6 592.8 768.3 592.9 778.0 606.1 787.6 629.1 797.3 631.4 806.9 633.9 816.6 638.2 826.3 631.0 835.9 612.2 845.6 624.7 855.2 636.0 864.9 635.7 874.6 639.4 884.2 610.3 893.9 646.0 903.5 617.2 913.2 634.5 922.9 627.1 932.5 628.8 942.2 596.5 951.9 604.7 961.5 567.4 971.2 606.7 980.8 602.4 990.5 577.5 1000.2 572.3 1009.8 576.4 1019.5 590.6 1029.1 544.2 1038.8 548.1 1048.5 543.6 1058.1 548.6 1067.8 527.7 1077.4 535.0 1087.1 521.3" stroke="rgba(153,153,153,0.7)"/>
<path d="M130.7 524.0 140.4 500.5 150.0 513.9 159.7 505.8 169.3 482.4 179.0 486.2 188.7 482.8 198.3 479.2 208.0 459.4 217.6 472.3 227.3 453.7 237.0 430.3 246.6 444.3 256.3 453.4 265.9 453.8 275.6 434.1 285.3 446.4 294.9 447.3 304.6 434.6 314.3 435.9 323.9 410.8 333.6 436.1 343.2 399.4 352.9 425.7 362.6 415.0 372.2 408.5 381.9 414.0 391.5 409.0 401.2 430.0 410.9 446.6 420.5 424.5 430.2 444.1 439.8 434.1 449.5 419.5 459.2 436.4 468.8 444.9 478.5 455.4 488.1 450.2 497.8 453.7 507.5 475.2 517.1 458.8 526.8 480.4 536.4 471.2 546.1 485.1 555.8 474.5 565.4 482.5 575.1 498.8 584.7 506.8 594.4 507.1 604.1 502.8 613.7 513.1 623.4 530.3 633.1 535.1 642.7 527.0 652.4 570.8 662.0 551.8 671.7 574.8 681.4 554.6 691.0 582.0 700.7 583.1 710.3 599.8 720.0 592.1 729.7 587.9 739.3 582.2 749.0 620.5 758.6 614.8 768.3 567.7 778.0 605.3 787.6 619.2 797.3 615.4 806.9 654.5 816.6 606.2 826.3 624.3 835.9 643.6 845.6 613.5 855.2 634.4 864.9 638.5 874.6 619.4 884.2 619.5 893.9 627.7 903.5 621.0 913.2 633.2 922.9 631.4 932.5 600.7 942.2 592.1 951.9 598.4 961.5 594.7 971.2 598.9 980.8 590.8 990.5 594.9 1000.2 558.0 1009.8 579.3 1019.5 562.0 1029.1 560.6 1038.8 570.6 1048.5 525.3 1058.1 545.7 1067.8 543.6 1077.4 526.7 1087.1 531.8" stroke="rgba(153,153,153,0.7)"/>
<path d="M130.7 521.0 140.4 525.8 150.0 501.3 159.7 500.6 169.3 510.7 179.0 476.2 188.7 479.7 198.3 488.7 208.0 465.7 217.6 459.1 227.3 436.9 237.0 463.3 246.6 438.3 256.3 444.6 265.9 432.0 275.6 438.1 285.3 432.0 294.9 422.2 304.6 438.9 314.3 446.9 323.9 420.3 333.6 423.6 343.2 416.0 352.9 408.5 362.6 418.0 372.2 401.4 381.9 416.1 391.5 415.1 401.2 407.8 410.9 412.2 420.5 422.1 430.2 422.0 439.8 435.0 449.5 436.5 459.2 431.7 468.8 427.3 478.5 446.1 488.1 435.8 497.8 427.7 507.5 430.5 517.1 460.6 526.8 454.2 536.4 465.2 546.1 469.2 555.8 474.8 565.4 484.9 575.1 487.8 584.7 501.8 594.4 513.7 604.1 514.4 613.7 518.3 623.4 516.5 633.1 533.1 642.7 535.3 652.4 533.8 662.0 567.7 671.7 566.1 681.4 562.8 691.0 574.7 700.7 592.5 710.3 574.5 720.0 592.0 729.7 607.7 739.3 578.5 749.0 619.8 758.6 608.9 768.3 620.1 778.0 614.2 787.6 611.7 797.3 630.2 806.9 623.9 816.6 625.8 826.3 637.1 835.9 612.6 845.6 624.5 855.2 629.8 864.9 633.6 874.6 628.8 884.2 621.9 893.9 627.2 903.5 605.0 913.2 646.7 922.9 639.0 932.5 613.7 942.2 628.5 951.9 603.7 961.5 606.2 971.2 587.0 980.8 584.0 990.5 568.2 1000.2 567.2 1009.8 557.6 1019.5 560.1 1029.1 547.6 1038.8 547.9 1048.5 554.2 1058.1 555.4 1067.8 548.3 1077.4 521.9 1087.1 548.6" stroke="rgba(153,153,153,0.7)"/>
<path d="M130.7 518.7 140.4 522.8 150.0 498.8 159.7 498.4 169.3 503.0 179.0 487.6 188.7 508.0 198.3 472.2 208.0 463.9 217.6 485.0 227.3 448.1 237.0 454.2 246.6 445.8 256.3 459.6 265.9 431.6 275.6 427.8 285.3 431.0 294.9 439.0 304.6 415.6 314.3 407.4 323.9 415.0 333.6 406.2 343.2 423.3 352.9 413.7 362.6 410.6 372.2 413.1 381.9 382.3 391.5 410.9 401.2 423.5 410.9 408.9 420.5 433.1 430.2 418.6 439.8 416.7 449.5 434.5 459.2 436.0 468.8 447.1 478.5 438.8 488.1 452.8 497.8 429.5 507.5 447.3 517.1 462.8 526.8 482.4 536.4 448.0 546.1 462.6 555.8 478.4 565.4 488.0 575.1 494.8 584.7 508.8 594.4 488.1 604.1 514.3 613.7 540.2 623.4 537.8 633.1 566.9 642.7 535.7 652.4 541.0 662.0 535.6 671.7 538.1 681.4 577.7 691.0 569.2 700.7 568.5 710.3 576.3 720.0 596.6 729.7 586.2 739.3 594.3 749.0 588.5 758.6 608.6 768.3 614.6 778.0 620.9 787.6 622.2 797.3 629.1 806.9 626.1 816.6 617.9 826.3 619.6 835.9 610.4 845.6 613.3 855.2 618.7 864.9 638.9 874.6 617.9 884.2 609.6 893.9 636.6 903.5 632.2 913.2 627.7 922.9 625.8 932.5 613.7 942.2 617.6 951.9 598.1 961.5 612.4 971.2 595.0 980.8 594.4 990.5 594.6 1000.2 565.7 1009.8 571.7 1019.5 559.8 1029.1 563.8 1038.8 545.4 1048.5 540.0 1058.1 542.4 1067.8 554.7 1077.4 517.8 1087.1 512.6" stroke="rgba(153,153,153,0.7)"/>
<path d="M130.7 518.5 140.4 511.1 150.0 505.8 159.7 498.4 169.3 505.8 179.0 488.3 188.7 477.6 198.3 482.3 208.0 480.5 217.6 441.8 227.3 450.8 237.0 456.2 246.6 453.4 256.3 473.7 265.9 455.1 275.6 437.4 285.3 415.8 294.9 451.3 304.6 432.6 314.3 399.5 323.9 411.8 333.6 413.0 343.2 402.5 352.9 416.9 362.6 417.0 372.2 406.5 381.9 405.3 391.5 428.3 401.2 399.3 410.9 438.9 420.5 428.7 430.2 387.3 439.8 431.8 449.5 421.3 459.2 444.2 468.8 440.1 478.5 449.0 488.1 449.8 497.8 442.4 507.5 434.8 517.1 450.4 526.8 448.1 536.4 478.0 546.1 461.1 555.8 477.8 565.4 474.8 575.1 502.1 584.7 506.6 594.4 494.6 604.1 510.1 613.7 522.7 623.4 538.6 633.1 538.5 642.7 538.3 652.4 542.1 662.0 563.3 671.7 567.1 681.4 564.2 691.0 588.0 700.7 569.9 710.3 586.3 720.0 593.0 729.7 624.5 739.3 619.5 749.0 617.4 758.6 616.0 768.3 625.6 778.0 611.7 787.6 617.3 797.3 624.4 806.9 646.9 816.6 608.6 826.3 629.2 835.9 619.9 845.6 634.9 855.2 627.0 864.9 618.3 874.6 622.8 884.2 612.9 893.9 624.5 903.5 597.0 913.2 639.6 922.9 621.0 932.5 599.8 942.2 610.5 951.9 608.6 961.5 619.7 971.2 580.4 980.8 611.5 990.5 578.2 1000.2 576.3 1009.8 562.7 1019.5 549.9 1029.1 568.9 1038.8 563.9 1048.5 551.7 1058.1 561.5 1067.8 525.3 1077.4 532.9 1087.1 519.7" stroke="rgba(153,153,153,0.7)"/>
<path d="M130.7 534.7 140.4 514.8 150.0 515.5 159.7 502.5 169.3 507.8 179.0 476.7 188.7 489.9 198.3 505.9 208.0 462.8 217.6 468.0 227.3 469.3 237.0 424.6 246.6 449.4 256.3 459.6 265.9 446.8 275.6 431.2 285.3 434.5 294.9 414.1 304.6 413.2 314.3 432.2 323.9 420.3 333.6 411.5 343.2 422.4 352.9 422.1 362.6 405.9 372.2 410.8 381.9 432.7 391.5 423.5 401.2 423.1 410.9 421.2 420.5 430.2 430.2 408.6 439.8 438.3 449.5 442.8 459.2 431.3 468.8 463.8 478.5 453.8 488.1 439.1 497.8 466.7 507.5 466.2 517.1 449.1 526.8 462.1 536.4 472.6 546.1 476.5 555.8 493.4 565.4 488.3 575.1 500.8 584.7 475.9 594.4 505.3 604.1 522.2 613.7 525.6 623.4 531.1 633.1 554.4 642.7 554.5 652.4 533.6 662.0 574.1 671.7 570.8 681.4 558.2 691.0 558.3 700.7 593.5 710.3 569.9 720.0 596.3 729.7 577.7 739.3 595.6 749.0 609.0 758.6 601.1 768.3 606.6 778.0 625.3 787.6 594.0 797.3 625.4 806.9 610.0 816.6 630.6 826.3 647.4 835.9 640.0 845.6 628.4 855.2 619.2 864.9 606.1 874.6 624.7 884.2 627.5 893.9 636.8 903.5 620.8 913.2 614.2 922.9 640.5 932.5 596.2 942.2 594.4 951.9 577.1 961.5 609.8 971.2 594.0 980.8 589.3 990.5 599.6 1000.2 588.6 1009.8 584.4 1019.5 561.0 1029.1 555.8 1038.8 538.8 1048.5 552.8 1058.1 557.8 1067.8 529.8 1077.4 523.9 1087.1 513.8" stroke="rgba(153,153,153,0.7)"/>
<path d="M130.7 507.0 140.4 521.6 150.0 498.9 159.7 513.2 169.3 493.2 179.0 480.5 188.7 483.6 198.3 473.6 208.0 486.4 217.6 471.9 227.3 457.1 237.0 467.6 246.6 458.5 256.3 415.5 265.9 436.5 275.6 445.1 285.3 443.8 294.9 412.4 304.6 458.2 314.3 427.2 323.9 414.0 333.6 426.1 343.2 412.2 352.9 429.6 362.6 417.1 372.2 416.3 381.9 417.0 391.5 416.3 401.2 418.7 410.9 407.7 420.5 425.8 430.2 432.0 439.8 431.3 449.5 434.7 459.2 452.5 468.8 460.9 478.5 458.6 488.1 444.1 497.8 460.1 507.5 462.2 517.1 429.5 526.8 455.4 536.4 476.8 546.1 487.8 555.8 470.7 565.4 502.2 575.1 485.1 584.7 499.3 594.4 496.7 604.1 527.9 613.7 515.7 623.4 554.0 633.1 541.6 642.7 533.6 652.4 544.6 662.0 580.4 671.7 557.3 681.4 566.1 691.0 578.0 700.7 591.3 710.3 591.6 720.0 600.1 729.7 587.3 739.3 597.4 749.0 594.6 758.6 603.0 768.3 629.5 778.0 616.1 787.6 595.5 797.3 635.8 806.9 621.6 816.6 635.6 826.3 638.0 835.9 625.9 845.6 618.0 855.2 619.6 864.9 622.7 874.6 616.0 884.2 644.7 893.9 614.4 903.5 617.1 913.2 621.3 922.9 616.3 932.5 622.8 942.2 595.6 951.9 613.8 961.5 617.9 971.2 596.0 980.8 597.7 990.5 586.5 1000.2 562.5 1009.8 576.0 1019.5 567.0 1029.1 535.9 1038.8 572.3 1048.5 545.2 1058.1 529.3 1067.8 518.6 1077.4 503.4 1087.1 530.6" stroke="rgba(153,153,153,0.7)"/>
<path d="M130.7 515.8 140.4 517.3 150.0 514.8 159.7 511.3 169.3 513.4 179.0 485.9 188.7 474.7 198.3 489.8 208.0 462.5 217.6 472.1 227.3 472.0 237.0 485.5 246.6 436.9 256.3 436.7 265.9 444.4 275.6 441.2 285.3 448.1 294.9 423.5 304.6 427.3 314.3 417.6 323.9 419.7 333.6 436.4 343.2 436.8 352.9 412.7 362.6 436.8 372.2 413.7 381.9 406.6 391.5 433.0 401.2 411.1 410.9 420.1 420.5 416.3 430.2 432.3 439.8 427.8 449.5 425.7 459.2 412.8 468.8 429.5 478.5 436.4 488.1 462.0 497.8 447.7 507.5 464.7 517.1 462.9 526.8 464.6 536.4 462.2 546.1 472.6 555.8 483.6 565.4 492.8 575.1 482.7 584.7 515.6 594.4 511.4 604.1 502.4 613.7 527.5 623.4 522.2 633.1 528.1 642.7 521.9 652.4 538.3 662.0 577.3 671.7 564.2 681.4 566.9 691.0 566.5 700.7 577.3 710.3 565.2 720.0 579.6 729.7 611.2 739.3 609.4 749.0 630.4 758.6 589.9 768.3 615.3 778.0 618.7 787.6 638.5 797.3 627.6 806.9 619.5 816.6 630.9 826.3 632.0 835.9 635.5 845.6 605.3 855.2 635.1 864.9 645.2 874.6 633.3 884.2 630.1 893.9 625.3 903.5 625.0 913.2 632.7 922.9 619.0 932.5 608.8 942.2 626.1 951.9 582.3 961.5 581.2 971.2 617.9 980.8 595.9 990.5 574.4 1000.2 564.9 1009.8 553.9 1019.5 590.8 1029.1 576.0 1038.8 562.6 1048.5 543.6 1058.1 556.2 1067.8 531.8 1077.4 524.8 1087.1 514.9" stroke="rgba(153,153,153,0.7)"/>
<path d="M130.7 538.6 140.4 514.3 150.0 509.1 159.7 508.2 169.3 481.2 179.0 493.6 188.7 466.7 198.3 484.6 208.0 451.4 217.6 446.3 227.3 469.9 237.0 450.9 246.6 446.1 256.3 456.6 265.9 431.3 275.6 429.5 285.3 443.1 294.9 428.2 304.6 415.8 314.3 425.6 323.9 429.9 333.6 400.3 343.2 429.8 352.9 413.2 362.6 403.4 372.2 407.2 381.9 438.5 391.5 421.4 401.2 420.2 410.9 422.6 420.5 414.7 430.2 418.0 439.8 425.6 449.5 427.2 459.2 421.8 468.8 422.9 478.5 464.2 488.1 420.6 497.8 457.7 507.5 447.0 517.1 480.9 526.8 473.4 536.4 488.0 546.1 466.3 555.8 474.9 565.4 491.7 575.1 500.2 584.7 500.2 594.4 522.6 604.1 525.3 613.7 533.9 623.4 521.9 633.1 537.9 642.7 559.8 652.4 547.2 662.0 551.4 671.7 547.5 681.4 576.5 691.0 571.0 700.7 556.9 710.3 590.7 720.0 596.3 729.7 590.8 739.3 607.3 749.0 605.6 758.6 615.5 768.3 622.4 778.0 605.9 787.6 623.5 797.3 633.3 806.9 626.9 816.6 626.7 826.3 622.7 835.9 616.0 845.6 606.4 855.2 641.7 864.9 629.6 874.6 647.3 884.2 621.8 893.9 616.5 903.5 628.2 913.2 628.7 922.9 626.7 932.5 629.3 942.2 600.5 951.9 581.4 961.5 613.0 971.2 575.6 980.8 591.3 990.5 601.1 1000.2 572.5 1009.8 564.5 1019.5 562.8 1029.1 564.4 1038.8 535.4 1048.5 552.0 1058.1 534.6 1067.8 527.9 1077.4 539.4 1087.1 544.0" stroke="rgba(153,153,153,0.7)"/>
<path d="M130.7 542.6 140.4 520.2 150.0 504.6 159.7 523.2 169.3 504.2 179.0 471.2 188.7 504.2 198.3 471.4 208.0 466.7 217.6 455.8 227.3 477.0 237.0 450.4 246.6 465.8 256.3 428.9 265.9 450.5 275.6 431.8 285.3 442.0 294.9 427.6 304.6 444.3 314.3 420.3 323.9 414.3 333.6 419.8 343.2 399.2 352.9 413.0 362.6 407.5 372.2 410.7 381.9 394.9 391.5 425.5 401.2 422.1 410.9 423.1 420.5 415.2 430.2 421.8 439.8 417.8 449.5 427.3 459.2 440.4 468.8 438.9 478.5 437.2 488.1 473.9 497.8 435.3 507.5 463.6 517.1 466.5 526.8 464.8 536.4 476.7 546.1 496.9 555.8 488.7 565.4 475.9 575.1 486.4 584.7 490.7 594.4 518.5 604.1 521.2 613.7 512.8 623.4 514.4 633.1 538.2 642.7 556.6 652.4 574.5 662.0 541.1 671.7 582.2 681.4 565.1 691.0 565.5 700.7 543.0 710.3 584.8 720.0 593.5 729.7 591.5 739.3 595.4 749.0 589.7 758.6 601.3 768.3 622.2 778.0 641.4 787.6 615.4 797.3 629.5 806.9 606.5 816.6 640.6 826.3 623.7 835.9 635.5 845.6 637.6 855.2 607.0 864.9 624.4 874.6 627.7 884.2 615.2 893.9 631.7 903.5 624.5 913.2 625.2 922.9 590.8 932.5 607.2 942.2 599.9 951.9 590.0 961.5 601.2 971.2 596.2 980.8 609.0 990.5 578.3 1000.2 575.4 1009.8 577.7 1019.5 552.3 1029.1 582.1 1038.8 549.3 1048.5 564.5 1058.1 555.1 1067.8 537.3 1077.4 512.0 1087.1 535.7" stroke="rgba(153,153,153,0.7)"/>
<path d="M130.7 533.4 140.4 529.2 150.0 483.7 159.7 495.0 169.3 489.9 179.0 463.5 188.7 479.0 198.3 501.2 208.0 476.0 217.6 478.6 227.3 434.2 237.0 470.4 246.6 444.7 256.3 449.9 265.9 444.6 275.6 435.0 285.3 433.1 294.9 436.4 304.6 440.1 314.3 430.4 323.9 433.0 333.6 429.6 343.2 415.8 352.9 418.1 362.6 410.0 372.2 418.5 381.9 392.7 391.5 425.6 401.2 430.0 410.9 407.1 420.5 430.0 430.2 422.4 439.8 414.8 449.5 431.0 459.2 437.7 468.8 425.6 478.5 437.5 488.1 452.5 497.8 465.4 507.5 460.7 517.1 481.5 526.8 477.7 536.4 486.3 546.1 475.5 555.8 476.1 565.4 499.6 575.1 503.5 584.7 518.1 594.4 528.2 604.1 523.4 613.7 518.1 623.4 525.9 633.1 531.1 642.7 548.2 652.4 584.4 662.0 546.5 671.7 548.0 681.4 559.0 691.0 564.9 700.7 568.2 710.3 554.5 720.0 588.1 729.7 578.0 739.3 591.6 749.0 597.4 758.6 611.0 768.3 617.1 778.0 629.7 787.6 611.8 797.3 625.1 806.9 637.8 816.6 634.1 826.3 640.4 835.9 607.5 845.6 630.1 855.2 625.7 864.9 641.1 874.6 638.0 884.2 611.5 893.9 625.2 903.5 617.5 913.2 595.4 922.9 589.3 932.5 602.9 942.2 601.6 951.9 600.6 961.5 602.5 971.2 569.8 980.8 604.0 990.5 585.1 1000.2 601.8 1009.8 588.0 1019.5 561.9 1029.1 555.1 1038.8 550.2 1048.5 551.8 1058.1 549.9 1067.8 541.2 1077.4 532.6 1087.1 508.1" stroke="rgba(153,153,153,0.7)"/>
<path d="M130.7 503.7 140.4 509.2 150.0 514.4 159.7 512.6 169.3 491.1 179.0 491.1 188.7 504.0 198.3 459.3 208.0 470.0 217.6 468.0 227.3 469.1 237.0 463.9 246.6 437.4 256.3 455.0 265.9 438.0 275.6 427.5 285.3 409.1 294.9 420.8 304.6 425.5 314.3 427.8 323.9 409.9 333.6 406.4 343.2 422.3 352.9 409.1 362.6 417.3 372.2 435.2 381.9 428.0 391.5 406.8 401.2 400.3 410.9 411.1 420.5 423.8 430.2 432.4 439.8 420.0 449.5 425.7 459.2 452.8 468.8 429.3 478.5 449.9 488.1 437.8 497.8 444.3 507.5 447.1 517.1 448.4 526.8 458.4 536.4 485.5 546.1 491.2 555.8 472.5 565.4 485.7 575.1 517.0 584.7 528.8 594.4 500.4 604.1 491.0 613.7 514.6 623.4 534.2 633.1 534.7 642.7 577.5 652.4 563.1 662.0 545.2 671.7 553.3 681.4 595.5 691.0 561.3 700.7 574.8 710.3 575.3 720.0 594.2 729.7 596.6 739.3 614.2 749.0 601.6 758.6 598.5 768.3 624.2 778.0 611.6 787.6 625.3 797.3 608.6 806.9 611.4 816.6 653.3 826.3 620.5 835.9 614.4 845.6 633.8 855.2 629.5 864.9 628.2 874.6 639.3 884.2 625.5 893.9 603.5 903.5 614.3 913.2 599.1 922.9 602.5 932.5 596.6 942.2 605.9 951.9 594.0 961.5 574.6 971.2 576.4 980.8 585.3 990.5 592.4 1000.2 589.6 1009.8 569.8 1019.5 561.4 1029.1 582.8 1038.8 551.6 1048.5 543.6 1058.1 537.6 1067.8 541.3 1077.4 500.1 1087.1 510.7" stroke="rgba(153,153,153,0.7)"/>
<path d="M130.7 537.9 140.4 523.2 150.0 498.2 159.7 495.1 169.3 493.2 179.0 488.7 188.7 484.6 198.3 481.3 208.0 482.4 217.6 457.3 227.3 492.3 237.0 462.3 246.6 433.6 256.3 453.3 265.9 453.9 275.6 412.6 285.3 419.2 294.9 430.2 304.6 432.5 314.3 425.7 323.9 424.9 333.6 421.9 343.2 426.5 352.9 410.1 362.6 422.8 372.2 437.9 381.9 432.0 391.5 417.1 401.2 430.6 410.9 449.8 420.5 403.9 430.2 418.4 439.8 432.9 449.5 436.7 459.2 427.8 468.8 421.3 478.5 449.6 488.1 441.7 497.8 459.1 507.5 452.8 517.1 475.9 526.8 489.8 536.4 472.6 546.1 480.5 555.8 477.3 565.4 500.4 575.1 482.3 584.7 504.3 594.4 493.5 604.1 522.9 613.7 507.3 623.4 533.0 633.1 537.2 642.7 533.8 652.4 573.3 662.0 571.2 671.7 542.5 681.4 588.8 691.0 582.5 700.7 575.6 710.3 569.9 720.0 598.8 729.7 596.0 739.3 615.7 749.0 610.9 758.6 597.8 768.3 609.8 778.0 617.2 787.6 614.5 797.3 620.4 806.9 622.0 816.6 629.8 826.3 638.5 835.9 619.3 845.6 641.6 855.2 615.4 864.9 601.5 874.6 607.9 884.2 596.8 893.9 635.5 903.5 617.8 913.2 628.1 922.9 624.0 932.5 632.4 942.2 622.6 951.9 593.6 961.5 591.1 971.2 580.3 980.8 576.2 990.5 575.0 1000.2 588.5 1009.8 574.5 1019.5 558.3 1029.1 545.9 1038.8 559.1 1048.5 554.1 1058.1 546.8 1067.8 515.8 1077.4 521.4 1087.1 525.3" stroke="rgba(153,153,153,0.7)"/>
<path d="M130.7 530.7 140.4 509.5 150.0 528.2 159.7 504.1 169.3 501.7 179.0 495.4 188.7 479.6 198.3 470.9 208.0 433.5 217.6 462.9 227.3 450.2 237.0 463.0 246.6 468.1 256.3 429.9 265.9 415.6 275.6 447.0 285.3 432.2 294.9 414.6 304.6 423.8 314.3 451.1 323.9 408.0 333.6 420.1 343.2 408.3 352.9 427.6 362.6 404.9 372.2 402.9 381.9 424.3 391.5 410.5 401.2 425.2 410.9 425.2 420.5 432.0 430.2 428.7 439.8 434.5 449.5 415.5 459.2 435.8 468.8 450.4 478.5 424.8 488.1 439.2 497.8 438.7 507.5 456.5 517.1 452.8 526.8 467.9 536.4 484.0 546.1 477.4 555.8 483.1 565.4 489.6 575.1 487.6 584.7 525.0 594.4 507.4 604.1 527.2 613.7 527.7 623.4 525.7 633.1 536.9 642.7 552.2 652.4 541.6 662.0 557.7 671.7 552.1 681.4 554.6 691.0 579.4 700.7 593.8 710.3 585.2 720.0 581.5 729.7 592.3 739.3 614.6 749.0 625.1 758.6 620.0 768.3 623.6 778.0 608.0 787.6 617.5 797.3 610.2 806.9 623.6 816.6 604.2 826.3 625.2 835.9 619.5 845.6 631.2 855.2 620.9 864.9 612.8 874.6 615.5 884.2 608.1 893.9 628.7 903.5 613.9 913.2 596.4 922.9 610.7 932.5 612.3 942.2 609.4 951.9 608.8 961.5 596.4 971.2 577.0 980.8 583.1 990.5 583.5 1000.2 587.1 1009.8 585.4 1019.5 537.7 1029.1 565.4 1038.8 552.3 1048.5 552.8 1058.1 538.6 1067.8 539.0 1077.4 526.0 1087.1 503.4" stroke="rgba(153,153,153,0.7)"/>
</g>
<path d="M1183.1 466.3H1219.8" stroke="rgba(153,153,153,0.7)" stroke-width="2.845"/>
<path d="M1183.1 512.3H1219.8" stroke="rgba(255,0,0,0.7)" stroke-width="2.845"/>
<g font-family="Liberation Sans, sans-serif" text-rendering="geometricPrecision">
<text transform="matrix(1.0000 0 0 0.9642 -0.03 4.50) translate(69.6 106.4)" font-size="23.47" fill="#4D4D4D" text-anchor="end">4</text>
<text transform="matrix(1.0000 0 0 0.9613 0.68 12.12) translate(69.6 317.95)" font-size="23.47" fill="#4D4D4D" text-anchor="end">2</text>
<text transform="matrix(1.0000 0 0 0.9552 0.07 23.47) translate(69.6 529.5)" font-size="23.47" fill="#4D4D4D" text-anchor="end">0</text>
<text transform="matrix(1.0000 0 0 0.9673 0.43 25.10) translate(69.6 741.05)" font-size="23.47" fill="#4D4D4D" text-anchor="end">-2</text>
<text transform="matrix(1.0000 0 0 0.9494 0.17 45.43) translate(130.7 906)" font-size="23.47" fill="#4D4D4D" text-anchor="middle">0.00</text>
<text transform="matrix(1.0000 0 0 0.9465 0.04 48.02) translate(369.8 906)" font-size="23.47" fill="#4D4D4D" text-anchor="middle">0.25</text>
<text transform="matrix(1.0000 0 0 0.9415 -0.15 52.58) translate(608.9 906)" font-size="23.47" fill="#4D4D4D" text-anchor="middle">0.50</text>
<text transform="matrix(1.0000 0 0 0.9495 0.01 45.37) translate(848 906)" font-size="23.47" fill="#4D4D4D" text-anchor="middle">0.75</text>
<text transform="matrix(1.0000 0 0 0.9475 -0.53 47.11) translate(1087.1 906)" font-size="23.47" fill="#4D4D4D" text-anchor="middle">1.00</text>
<text transform="matrix(1.0000 0 0 0.9768 -0.58 21.34) translate(609 938.7)" font-size="29.33" fill="#000" text-anchor="middle">t</text>
<text transform="matrix(0.9813 0 0 1.0000 0.45 0.22) translate(36 468.4) rotate(-90)" font-size="29.33" fill="#000" text-anchor="middle">X(t)</text>
<text transform="matrix(1.0000 0 0 1.0098 -0.68 0.24) translate(83 40.2)" font-size="35.2" fill="#000">Outliers detected: 3</text>
<text transform="matrix(1.0000 0 0 1.0583 -0.35 -25.29) translate(1179 427)" font-size="29.33" fill="#000">Status</text>
<text transform="matrix(1.0000 0 0 0.9844 -0.89 7.14) translate(1239.5 475.2)" font-size="23.47" fill="#000">Normal</text>
<text transform="matrix(1.0000 0 0 0.9961 -0.85 1.78) translate(1239.5 520.5)" font-size="23.47" fill="#000">Outlier</text>
</g>
</svg>
</body></html>
